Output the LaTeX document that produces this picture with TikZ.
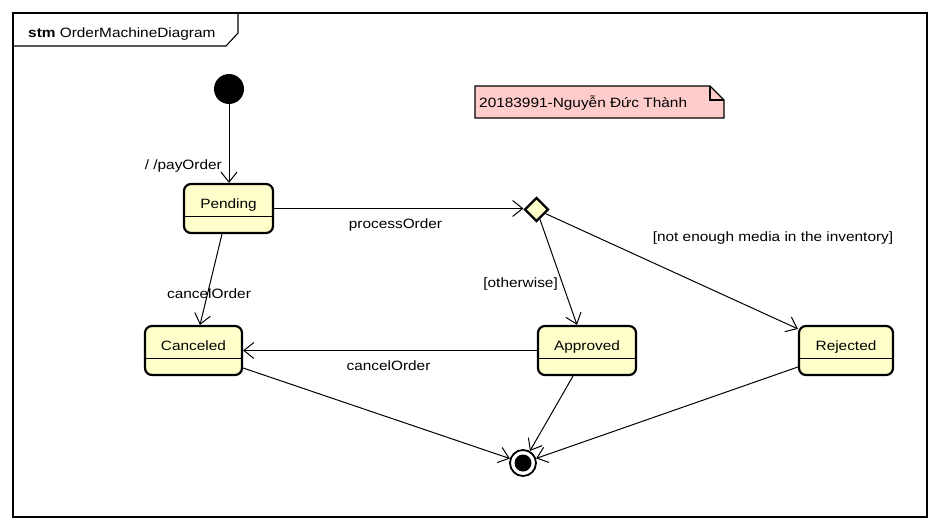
\documentclass[tikz,border=0pt]{standalone}
\usepackage{fontspec}
\setmainfont{Liberation Sans}[FakeStretch=1.14]
\usetikzlibrary{arrows.meta,shapes.geometric}
\definecolor{stfill}{RGB}{255,255,204}
\definecolor{notefill}{RGB}{255,204,204}
\begin{document}
\begin{tikzpicture}[x=1pt,y=-1pt,
  every node/.style={font=\fontsize{13.5}{16}\selectfont},
  stbox/.style={draw, line width=2.2pt, rounded corners=7pt, fill=stfill,
    minimum height=49pt, text height=6pt, text depth=6pt, inner sep=0pt,
    path picture={\draw[black, line width=1pt] ([yshift=-7.5pt]path picture bounding box.west) -- ([yshift=-7.5pt]path picture bounding box.east);}},
  tr/.style={draw, line width=1pt, -{Straight Barb[length=10pt,width=16pt,line width=1pt]}},
  lbl/.style={inner sep=0pt}
]
\useasboundingbox (0,0) rectangle (940,530);
% frame
\draw[line width=1.1pt] (13,13) rectangle (927,517);
\draw[line width=1.1pt] (13,46) -- (226,46) -- (238,33) -- (238,13);
\node[anchor=base west, lbl] (title) at (28,37) {\textbf{stm} OrderMachineDiagram};
% note
\draw[line width=1.2pt, fill=notefill] (475,86) -- (710,86) -- (724,100) -- (724,118) -- (475,118) -- cycle;
\draw[line width=1.2pt] (710,86) -- (710,100) -- (724,100);
\node[anchor=base west, lbl] (note) at (479,107) {20183991-Nguyễn Đức Thành};
% states
\node[circle, fill=black, minimum size=30pt, inner sep=0pt] (ini) at (229,89) {};
\node[stbox, minimum width=89pt] (pen) at (228.5,208.5) {Pending};
\node[stbox, minimum width=97pt] (can) at (193.5,350.5) {Canceled};
\node[stbox, minimum width=98pt] (app) at (587,350.5) {Approved};
\node[stbox, minimum width=94pt] (rej) at (846,350.5) {Rejected};
\node[diamond, draw, line width=2.2pt, fill=stfill, minimum width=24pt, minimum height=24pt, inner sep=0pt] (dia) at (536.5,209.5) {};
\node[circle, draw, line width=1.8pt, fill=white, minimum size=26pt, inner sep=0pt,
  path picture={\fill[black] (path picture bounding box.center) circle (8.5pt);}] (fin) at (523,463) {};
% transitions
\draw[tr] (ini) -- (ini |- pen.north);
\draw[tr] (pen.east) -- (pen.east -| dia.west);
\draw[tr] (dia) -- ([xshift=-10pt]app.north);
\draw[tr] (dia) -- ([yshift=-4pt]rej.north west);
\draw[tr] ([xshift=-6.5pt]pen.south) -- ([xshift=6.5pt]can.north);
\draw[tr] (app.west) -- (app.west -| can.east);
\draw[tr] ([yshift=-17.5pt]can.east) -- (fin);
\draw[tr] ([xshift=-14pt]app.south) -- (fin);
\draw[tr] ([yshift=-16.5pt]rej.west) -- (fin);
% labels
\node[anchor=base east, lbl] (l1) at (222,169) {/ /payOrder};
\node[anchor=base, lbl] (l2) at (395.5,228) {processOrder};
\node[anchor=base east, lbl] (l3) at (558,287) {[otherwise]};
\node[anchor=base, lbl] (l4) at (773,241) {[not enough media in the inventory]};
\node[anchor=base, lbl] (l5) at (209,298) {cancelOrder};
\node[anchor=base, lbl] (l6) at (388.5,370) {cancelOrder};
\end{tikzpicture}
\end{document}
